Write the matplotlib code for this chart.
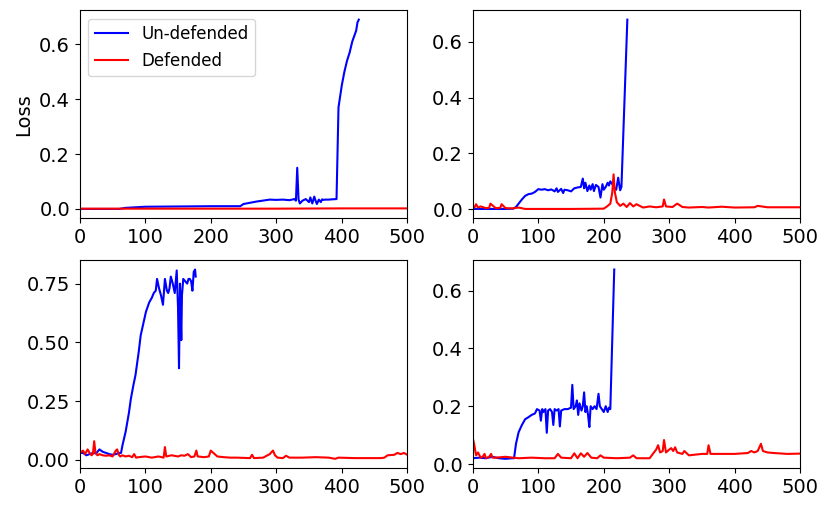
import matplotlib
matplotlib.use("Agg")
from matplotlib import pyplot as plt

# panel 1 (top left)
tl_blue_x = [0, 60, 70, 100, 150, 200, 245, 250, 270, 290, 300, 310, 320, 328, 330, 332, 334, 336, 340, 345,
             350, 352, 355, 358, 360, 362, 365, 368, 370, 372, 375, 380, 385, 392, 395, 400, 404, 408, 412,
             416, 419, 422, 424, 426]
tl_blue_y = [0, 0, 0.004, 0.008, 0.009, 0.01, 0.01, 0.018, 0.027, 0.034, 0.033, 0.034, 0.032, 0.036, 0.03,
             0.15, 0.035, 0.02, 0.03, 0.036, 0.025, 0.042, 0.02, 0.045, 0.03, 0.018, 0.034, 0.025, 0.035,
             0.033, 0.034, 0.034, 0.035, 0.036, 0.37, 0.45, 0.50, 0.54, 0.57, 0.61, 0.63, 0.65, 0.68, 0.69]
tl_red_x = [0, 100, 200, 300, 400, 500]
tl_red_y = [0.001, 0.001, 0.001, 0.001, 0.002, 0.002]

# panel 2 (top right)
tr_blue_x = [0, 50, 62, 66, 70, 75, 80, 85, 90, 95, 100, 105, 110, 115, 120, 125, 128, 130, 135, 138, 140,
             145, 150, 155, 160, 165, 168, 170, 172, 175, 178, 180, 183, 185, 188, 192, 195, 198, 200, 203,
             206, 208, 210, 213, 216, 219, 222, 225, 227, 236]
tr_blue_y = [0.001, 0.001, 0.002, 0.008, 0.02, 0.035, 0.048, 0.054, 0.056, 0.062, 0.072, 0.07, 0.072,
             0.068, 0.071, 0.064, 0.075, 0.062, 0.073, 0.058, 0.07, 0.068, 0.064, 0.075, 0.078, 0.08, 0.11,
             0.075, 0.095, 0.065, 0.085, 0.07, 0.09, 0.065, 0.087, 0.08, 0.042, 0.09, 0.07, 0.08, 0.095,
             0.085, 0.1, 0.09, 0.078, 0.07, 0.113, 0.068, 0.08, 0.68]
tr_red_x = [0, 3, 5, 8, 12, 20, 25, 27, 35, 42, 44, 50, 60, 70, 80, 100, 150, 200, 205, 210, 213, 215, 217,
            220, 225, 230, 235, 240, 245, 250, 260, 270, 280, 290, 292, 295, 305, 312, 315, 320, 330, 350,
            360, 380, 400, 430, 435, 450, 480, 500]
tr_red_y = [0.005, 0.008, 0.018, 0.006, 0.01, 0.004, 0.005, 0.02, 0.004, 0.005, 0.018, 0.004, 0.003, 0.006,
            0.001, 0.001, 0.001, 0.002, 0.01, 0.02, 0.06, 0.125, 0.06, 0.025, 0.012, 0.02, 0.008, 0.022,
            0.01, 0.018, 0.006, 0.01, 0.007, 0.01, 0.035, 0.01, 0.008, 0.02, 0.016, 0.008, 0.006, 0.008,
            0.006, 0.009, 0.006, 0.007, 0.012, 0.007, 0.007, 0.007]

# panel 3 (bottom left)
bl_blue_x = [0, 5, 10, 15, 20, 25, 30, 35, 40, 45, 50, 55, 60, 63, 65, 70, 75, 78, 82, 85, 90, 93, 97, 101,
             106, 110, 113, 116, 118, 121, 124, 127, 130, 133, 135, 137, 139, 142, 145, 148, 150, 151.5, 153,
             155, 156, 158, 161, 164, 166, 168, 170, 172, 174, 176, 177]
bl_blue_y = [0.03, 0.03, 0.02, 0.025, 0.03, 0.028, 0.045, 0.035, 0.03, 0.025, 0.022, 0.025, 0.03, 0.03,
             0.06, 0.12, 0.2, 0.26, 0.32, 0.36, 0.46, 0.53, 0.58, 0.63, 0.67, 0.69, 0.71, 0.72, 0.77, 0.73,
             0.70, 0.66, 0.77, 0.72, 0.71, 0.73, 0.78, 0.75, 0.71, 0.806, 0.65, 0.39, 0.75, 0.51, 0.7, 0.77,
             0.76, 0.75, 0.77, 0.77, 0.76, 0.72, 0.80, 0.81, 0.78]
bl_red_x = [0, 5, 8, 12, 15, 18, 20, 22, 24, 27, 30, 35, 40, 45, 50, 55, 57, 60, 62, 65, 70, 75, 80, 83, 86,
            90, 100, 110, 120, 128, 130, 132, 140, 150, 155, 160, 165, 170, 175, 178, 180, 190, 197, 200,
            210, 220, 230, 240, 260, 263, 266, 280, 290, 295, 298, 302, 310, 315, 320, 340, 360, 380, 390,
            395, 420, 440, 460, 465, 470, 480, 485, 490, 495, 500]
bl_red_y = [0.03, 0.04, 0.025, 0.045, 0.03, 0.02, 0.025, 0.08, 0.03, 0.02, 0.025, 0.02, 0.018, 0.02, 0.015,
            0.04, 0.045, 0.02, 0.015, 0.02, 0.015, 0.018, 0.012, 0.025, 0.01, 0.012, 0.015, 0.01, 0.015,
            0.01, 0.055, 0.015, 0.02, 0.015, 0.02, 0.018, 0.025, 0.012, 0.015, 0.04, 0.015, 0.012, 0.015,
            0.04, 0.015, 0.012, 0.01, 0.01, 0.008, 0.022, 0.008, 0.01, 0.025, 0.04, 0.02, 0.01, 0.008,
            0.018, 0.01, 0.01, 0.012, 0.01, 0.005, 0.01, 0.008, 0.008, 0.008, 0.01, 0.02, 0.022, 0.03,
            0.025, 0.03, 0.022]

# panel 4 (bottom right)
br_blue_x = [0, 10, 20, 30, 40, 50, 60, 63, 66, 70, 75, 80, 85, 90, 95, 98, 102, 104, 106, 108, 111, 113,
             115, 118, 121, 123, 125, 128, 131, 133, 135, 140, 145, 150, 152, 154, 157, 159, 161, 163, 166,
             168, 170, 172, 174, 176, 178, 180, 183, 186, 189, 192, 194, 197, 200, 203, 206, 208, 210, 216]
br_blue_y = [0.02, 0.022, 0.02, 0.025, 0.02, 0.018, 0.02, 0.02, 0.07, 0.11, 0.135, 0.155, 0.162, 0.17,
             0.175, 0.19, 0.185, 0.15, 0.19, 0.18, 0.19, 0.108, 0.185, 0.19, 0.18, 0.135, 0.19, 0.185,
             0.19, 0.13, 0.185, 0.19, 0.19, 0.195, 0.274, 0.19, 0.2, 0.22, 0.17, 0.21, 0.185, 0.2, 0.248,
             0.18, 0.2, 0.17, 0.128, 0.2, 0.19, 0.2, 0.19, 0.243, 0.2, 0.19, 0.18, 0.2, 0.18, 0.195, 0.19,
             0.673]
br_red_x = [0, 2, 5, 8, 12, 15, 18, 20, 25, 28, 30, 35, 50, 70, 90, 110, 125, 130, 135, 150, 155, 160, 165,
            170, 175, 178, 181, 190, 195, 200, 220, 240, 245, 250, 270, 275, 280, 283, 286, 290, 292, 295,
            300, 303, 306, 309, 312, 320, 323, 330, 350, 358, 360, 363, 370, 400, 420, 425, 430, 435, 440,
            443, 450, 460, 480, 500]
br_red_y = [0.09, 0.07, 0.03, 0.04, 0.022, 0.025, 0.035, 0.02, 0.025, 0.035, 0.022, 0.022, 0.025, 0.02,
            0.022, 0.02, 0.02, 0.035, 0.022, 0.02, 0.037, 0.02, 0.037, 0.025, 0.038, 0.03, 0.022, 0.02,
            0.03, 0.022, 0.02, 0.022, 0.03, 0.02, 0.02, 0.035, 0.05, 0.065, 0.04, 0.045, 0.083, 0.04, 0.05,
            0.055, 0.045, 0.058, 0.04, 0.035, 0.045, 0.03, 0.035, 0.035, 0.065, 0.035, 0.035, 0.035, 0.038,
            0.045, 0.04, 0.045, 0.07, 0.045, 0.04, 0.038, 0.035, 0.036]

panels = [
    (tl_blue_x, tl_blue_y, tl_red_x, tl_red_y),
    (tr_blue_x, tr_blue_y, tr_red_x, tr_red_y),
    (bl_blue_x, bl_blue_y, bl_red_x, bl_red_y),
    (br_blue_x, br_blue_y, br_red_x, br_red_y),
]

fig, axes = plt.subplots(2, 2, figsize=(8.31, 5.09), dpi=100)
fig.subplots_adjust(left=0.096, right=0.963, top=0.980, bottom=0.080, wspace=0.2, hspace=0.2)

for ax, (bx, by, rx, ry) in zip(axes.flat, panels):
    ax.plot(bx, by, "b-", label="Un-defended")
    ax.plot(rx, ry, "r-", label="Defended")
    ax.set_xlim(0, 500)
    ax.tick_params(labelsize=14)

axes[0, 0].legend(loc="upper left", fontsize=12)
axes[0, 0].set_ylabel("Loss", fontsize=14)
axes[1, 0].set_yticks([0.0, 0.25, 0.5, 0.75])

plt.savefig("out.png")
